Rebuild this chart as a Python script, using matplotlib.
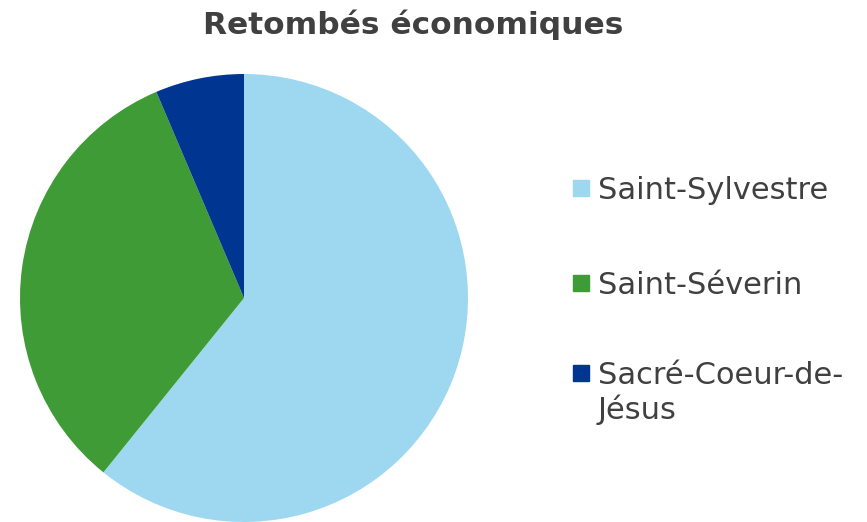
import matplotlib.pyplot as plt
from matplotlib.patches import Rectangle

# data (shares)
labels = ['Saint-Sylvestre', 'Saint-Séverin', 'Sacré-Coeur-de-\nJésus']
values = [60.8, 32.8, 6.4]
colors = ['#9DD8F0', '#3F9B35', '#003591']

plt.rcParams['font.family'] = ['DejaVu Sans']
W, H = 867, 522

fig = plt.figure(figsize=(W / 100, H / 100), dpi=100)
ax = fig.add_axes([20 / W, 0.0, 448 / W, 448 / H])

wedges, _ = ax.pie(values, colors=colors, startangle=90, counterclock=False,
                   radius=1.0)
ax.set_xlim(-1, 1)
ax.set_ylim(-1, 1)
ax.set_aspect('equal')

fig.text(413 / W, 1 - 25 / H, 'Retombés économiques', ha='center', va='center',
         fontsize=22.5, fontweight='bold', color='#404040')

# legend drawn by hand so the marker sits on the first line
ys = [188, 283, 373]
for lab, c, y in zip(labels, colors, ys):
    fig.patches.append(Rectangle((573 / W, 1 - (y + 8) / H), 16 / W, 16 / H,
                                 transform=fig.transFigure, color=c))
    fig.text(598 / W, 1 - (y - 12.5) / H, lab, ha='left', va='top',
             fontsize=22, color='#404040', linespacing=1.22)

fig.savefig('out.png', dpi=100)
